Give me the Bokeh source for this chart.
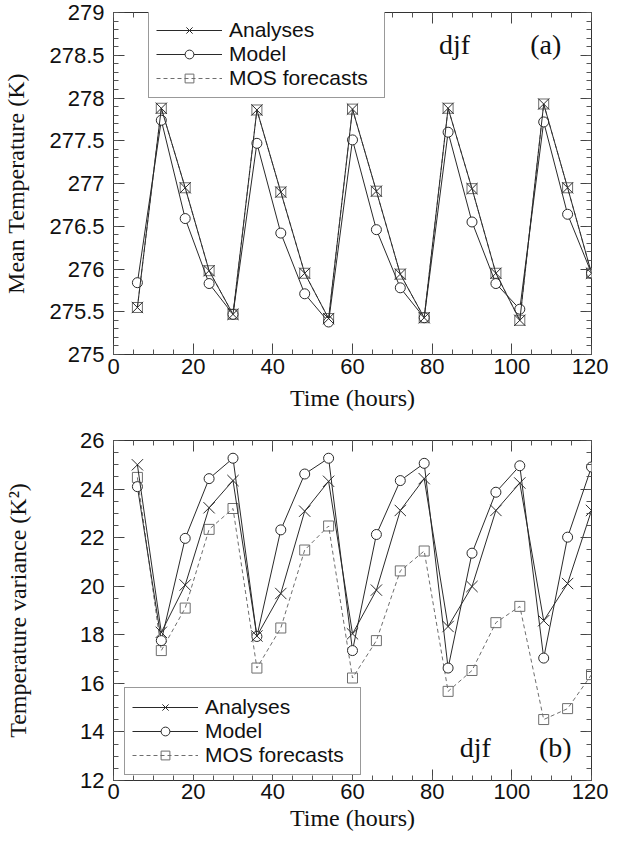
from bokeh.plotting import figure
from bokeh.layouts import column
from bokeh.models import (LinearAxis, SingleIntervalTicker, CustomJSTickFormatter,
                          Legend, LegendItem, Label, Range1d)
from bokeh.embed import file_html
from bokeh.resources import INLINE

hours = [6, 12, 18, 24, 30, 36, 42, 48, 54, 60, 66, 72, 78, 84, 90, 96, 102, 108, 114, 120]

# Panel (a): mean temperature (K)
temp_analyses = [275.55, 277.88, 276.95, 275.98, 275.47, 277.86, 276.90, 275.95, 275.42, 277.87,
                 276.91, 275.94, 275.43, 277.88, 276.94, 275.95, 275.40, 277.93, 276.95, 275.95]
temp_model = [275.84, 277.74, 276.59, 275.83, 275.47, 277.47, 276.42, 275.71, 275.38, 277.51,
              276.46, 275.78, 275.43, 277.60, 276.55, 275.83, 275.53, 277.72, 276.64, 275.95]
temp_mos = [275.55, 277.88, 276.95, 275.98, 275.47, 277.86, 276.90, 275.95, 275.42, 277.87,
            276.91, 275.94, 275.43, 277.88, 276.94, 275.95, 275.40, 277.93, 276.95, 275.95]

# Panel (b): temperature variance (K^2)
var_analyses = [25.0, 18.1, 20.05, 23.23, 24.35, 17.95, 19.7, 23.09, 24.32, 18.04,
                19.84, 23.12, 24.43, 18.34, 19.99, 23.12, 24.25, 18.58, 20.11, 23.12]
var_model = [24.1, 17.76, 21.97, 24.43, 25.27, 17.93, 22.32, 24.62, 25.27, 17.35,
             22.13, 24.35, 25.06, 16.63, 21.36, 23.87, 24.96, 17.04, 22.02, 24.91]
var_mos = [24.48, 17.35, 19.1, 22.34, 23.2, 16.63, 18.28, 21.49, 22.48, 16.22,
           17.76, 20.63, 21.45, 15.67, 16.53, 18.5, 19.17, 14.51, 14.96, 16.36]

series_names = ["Analyses", "Model", "MOS forecasts"]

TICK_FONT = "Liberation Sans"
SERIF = "Liberation Serif"
LINE_COL = "#2a2a2a"
MOS_COL = "#6e6e6e"

fmt = CustomJSTickFormatter(code="return String(Math.round(tick*10)/10);")
blank_fmt = CustomJSTickFormatter(code="return '';")


def style_axis(ax, show_labels=True):
    ax.major_tick_in = 11
    ax.major_tick_out = 0
    ax.minor_tick_in = 5
    ax.minor_tick_out = 0
    ax.major_tick_line_color = "#444444"
    ax.minor_tick_line_color = "#555555"
    ax.axis_line_color = None
    ax.major_label_text_font = TICK_FONT
    ax.major_label_text_color = "#111111"
    ax.major_label_text_font_size = "22px"
    if not show_labels:
        ax.formatter = blank_fmt
        ax.major_label_standoff = 0
    ax.axis_label_text_font = SERIF
    ax.axis_label_text_font_size = "24px"
    ax.axis_label_text_font_style = "normal"
    ax.axis_label_text_color = "#111111"


def make_panel(yvals, yr, yint, yminor, ylabel, tag, height, mtop, mbot,
               legend_loc, tag_xy, ystandoff, xstandoffs):
    a_vals, m_vals, s_vals = yvals
    p = figure(width=608, height=height, output_backend="svg", toolbar_location=None,
               x_range=Range1d(0, 120), y_range=Range1d(*yr),
               min_border_left=106, min_border_right=17, min_border_top=mtop,
               min_border_bottom=mbot)
    p.grid.visible = False
    p.outline_line_color = "#333333"
    p.outline_line_width = 1
    p.background_fill_color = "white"
    p.border_fill_color = "white"

    p.xaxis.ticker = SingleIntervalTicker(interval=20, num_minor_ticks=4)
    p.yaxis.ticker = SingleIntervalTicker(interval=yint, num_minor_ticks=yminor)
    p.xaxis.formatter = fmt
    p.yaxis.formatter = fmt
    for ax in p.xaxis:
        style_axis(ax)
        ax.major_label_standoff = xstandoffs[0]
        ax.axis_label = "Time (hours)"
        ax.axis_label_standoff = xstandoffs[1]
    for ax in p.yaxis:
        style_axis(ax)
        ax.major_label_standoff = 9
        ax.axis_label = ylabel
        ax.axis_label_standoff = ystandoff

    top = LinearAxis(ticker=SingleIntervalTicker(interval=20, num_minor_ticks=4))
    style_axis(top, show_labels=False)
    p.add_layout(top, "above")
    right = LinearAxis(ticker=SingleIntervalTicker(interval=yint, num_minor_ticks=yminor))
    style_axis(right, show_labels=False)
    p.add_layout(right, "right")

    s_line = p.line(hours, s_vals, line_color=MOS_COL, line_width=1, line_dash="4 3")
    s_pts = p.scatter(hours, s_vals, marker="square", size=10, line_color=MOS_COL,
                      fill_color="white", fill_alpha=0, line_width=1)
    m_line = p.line(hours, m_vals, line_color=LINE_COL, line_width=1)
    m_pts = p.scatter(hours, m_vals, marker="circle", size=10, line_color=LINE_COL,
                      fill_color="white", line_width=1)
    a_line = p.line(hours, a_vals, line_color=LINE_COL, line_width=1)
    a_pts = p.scatter(hours, a_vals, marker="x", size=16, line_color=LINE_COL, line_width=1)

    legend = Legend(items=[
        LegendItem(label=series_names[0], renderers=[a_line, a_pts]),
        LegendItem(label=series_names[1], renderers=[m_line, m_pts]),
        LegendItem(label=series_names[2], renderers=[s_line, s_pts]),
    ], location=legend_loc)
    legend.label_text_font = TICK_FONT
    legend.label_text_font_size = "21px"
    legend.label_text_color = "#111111"
    legend.glyph_width = 66
    legend.glyph_height = 22
    legend.label_height = 22
    legend.label_width = 148
    legend.spacing = 0
    legend.padding = 7
    legend.margin = 0
    legend.label_standoff = 7
    legend.border_line_color = "#333333"
    legend.border_line_width = 1
    legend.background_fill_color = "white"
    legend.background_fill_alpha = 1
    p.add_layout(legend)

    p.add_layout(Label(x=tag_xy[0], y=tag_xy[2], text="djf", text_font=SERIF,
                       text_font_size="28px", text_align="center", text_baseline="middle",
                       text_color="#111111"))
    p.add_layout(Label(x=tag_xy[1], y=tag_xy[2], text=tag, text_font=SERIF,
                       text_font_size="28px", text_align="center", text_baseline="middle",
                       text_color="#111111"))
    return p


p1 = make_panel((temp_analyses, temp_model, temp_mos), (275, 279), 0.5, 5,
                "Mean Temperature (K)", "(a)", 427, 12, 73, (35, 256),
                (85.6, 108.5, 278.63), 17, (4, 8))
p2 = make_panel((var_analyses, var_model, var_mos), (12, 26), 2, 4,
                "Temperature variance (K\u00b2)", "(b)", 406, 13, 53, (11, 5),
                (90.8, 110.9, 13.36), 46, (3, 3))

layout = column(p1, p2, spacing=0)
open("out.html", "w").write(file_html(layout, INLINE))
